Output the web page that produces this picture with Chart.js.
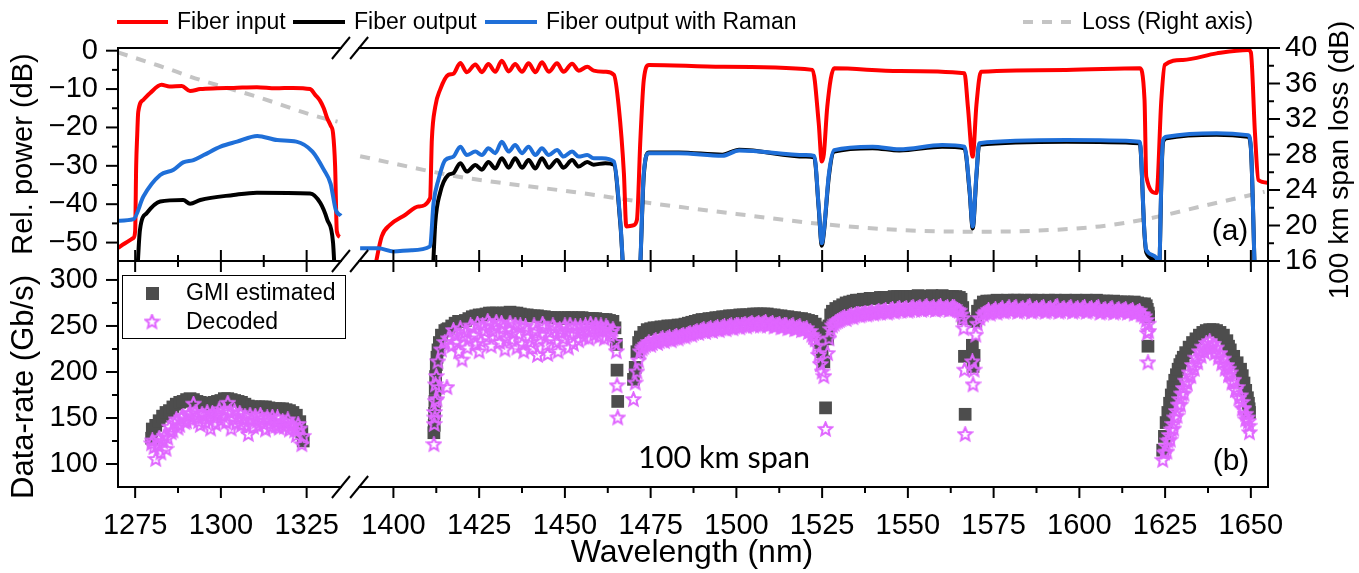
<!DOCTYPE html>
<html>
<head>
<title>Fiber spectra and data-rate</title>
<script src="https://cdn.jsdelivr.net/npm/chart.js"></script>
<style>
  body { margin: 0; background: #fff; }
  canvas { position: absolute; left: 0; top: 0; }
</style>
</head>
<body>
<canvas id="powerChart" width="1359" height="573"></canvas>
<canvas id="rateChart" width="1359" height="573"></canvas>
<script>
// ---------- panel (a): relative power spectra ----------
// ripple positions shared by the S-band traces
const rippleWl = [1419.5, 1421.4, 1423.9, 1425.8, 1427.7, 1429.7, 1431.6, 1433.6, 1435.5, 1437.5,
                  1439.4, 1441.4, 1443.3, 1445.3, 1447.7, 1449.6, 1452.1, 1454.0, 1456.5, 1458.4];

const inLeftWl = [1270, 1272, 1274.5, 1275.0, 1275.3, 1275.6, 1275.9, 1277.4, 1279.3, 1282.7,
                  1285, 1288.6, 1291, 1294, 1299, 1303.7, 1310.5, 1316, 1321, 1326,
                  1327.5, 1328.9, 1330, 1331, 1332, 1332.7, 1333.3, 1333.8, 1334.7];
const inLeftDb = [-51.4, -50.2, -48.8, -47, -30, -22, -16, -12.8, -11.1, -8.9,
                  -9.3, -9.2, -10.5, -10, -9.8, -9.7, -9.5, -9.8, -9.7, -10,
                  -11.5, -13, -15, -17.6, -19.5, -21.5, -30, -47, -48.5];
const inRightWl = [1394.5, 1396.6, 1399, 1403.4, 1407.3, 1410.7, 1411.2, 1412.2, 1413.6, 1416,
                   1417.5, ...rippleWl,
                   1461.8, 1464.3, 1465.7, 1467.2, 1467.9, 1470, 1471, 1472, 1473,
                   1474.5, 1495.9, 1522.2, 1524, 1524.9, 1525.5, 1526.5, 1528.5, 1547.5, 1566.5,
                   1567.5, 1568.9, 1570, 1571.3, 1596.2, 1617.6, 1619, 1619.5, 1622.5, 1623.9,
                   1624.9, 1630.2, 1640, 1649.2, 1650, 1651.2, 1652.2, 1655];
const inRightDb = [-57, -48.4, -45.4, -42.8, -40.6, -38.4, -23.3, -14.6, -10.2, -6.3,
                   -6.0, -3.2, -5.6, -3.6, -5.6, -3.5, -5.5, -2.6, -5.4, -3.5,
                   -5.5, -3.3, -5.6, -3.0, -5.5, -3.3, -5.5, -3.4, -5.2, -4.2,
                   -5.2, -5.5, -6.3, -14.6, -31.9, -45.8, -45.5, -44.1, -23.3, -7.6,
                   -3.7, -4.2, -5.0, -18.8, -28.9, -27, -14.6, -4.6, -5.3, -5.9,
                   -14.6, -27.6, -14, -5.5, -5.0, -4.6, -12.8, -32.8, -37.1, -12.8,
                   -3.7, -2.4, -0.7, 0.2, -0.4, -21.5, -33.7, -34.4];

const outLeftWl = [1275.5, 1276.4, 1278.4, 1282.3, 1289, 1291, 1294, 1303.7, 1310.5, 1326, 1329, 1331, 1332.7, 1333.3];
const outLeftDb = [-60, -46.7, -42.3, -39.3, -38.9, -39.9, -38.9, -37.6, -37, -37.2, -39.7, -44, -50, -60];
const outRightWl = [1411.4, 1412.2, 1413.6, 1416, 1417.5, ...rippleWl,
                    1461.8, 1464.3, 1466.2, 1467.4, 1471.6, 1473, 1474.5, 1483.2, 1495.9, 1500.8,
                    1520.2, 1522.7, 1524, 1524.9, 1525.5, 1527, 1528.5, 1539.7, 1547.5, 1560,
                    1566.5, 1568, 1568.9, 1570, 1570.8, 1596.2, 1617.6, 1619, 1619.5, 1622.5,
                    1623.2, 1624, 1624.4, 1625.4, 1640, 1649.2, 1650, 1651.2];
const outRightDb = [-60, -45, -37.1, -32.4, -31.9,
                    -29.3, -31.5, -29.8, -31.0, -29.0, -30.7, -28.0, -30.5, -28.0, -30.5,
                    -28.5, -30.7, -28.0, -30.5, -28.5, -30.5, -28.5, -30.2, -29.0, -29.7,
                    -29.3, -29.7, -45.5, -60, -60, -32.5, -26.5, -26.5, -27.1, -25.8,
                    -27.6, -27.8, -41, -50.8, -47.5, -32.5, -26.3, -25.4, -26.0, -25.0,
                    -25.4, -36.8, -46.3, -32.5, -24.5, -23.7, -24.1, -48, -52.5, -55,
                    -58, -31, -23.8, -22.8, -21.9, -22.4, -25.4, -60];

const ramLeftWl = [1270, 1274.5, 1277.4, 1282.3, 1286.2, 1289, 1292, 1295, 1299.9, 1304.7,
                   1310.6, 1316.4, 1322, 1326.7, 1330, 1332, 1333.5, 1335];
const ramLeftDb = [-44.3, -43.9, -38, -32.4, -31, -29.1, -28.5, -27.2, -25, -23.7,
                   -22.2, -23.3, -23.7, -26.3, -31, -34.7, -41.5, -43];
const ramRightWl = [1390.3, 1395.6, 1400, 1405.3, 1410.7, 1411.7, 1413.1, 1415.1, 1417.5, ...rippleWl,
                    1460.8, 1464.3, 1466.2, 1467.4, 1471.6, 1473, 1474.5, 1483.2, 1495.9, 1500.8,
                    1520.2, 1522.7, 1524, 1524.9, 1525.5, 1527, 1528.5, 1539.7, 1547.5, 1560,
                    1566.5, 1568, 1568.9, 1570, 1570.8, 1596.2, 1617.6, 1619, 1619.5, 1622.5,
                    1623.2, 1624, 1624.4, 1625.4, 1640, 1649.2, 1650, 1651.2];
const ramRightDb = [-51.5, -51.5, -52.3, -52, -51, -39.7, -33.7, -28.5, -27.6,
                    -25.0, -27.2, -26.3, -27.2, -25.4, -26.7, -23.7, -26.3, -24.6, -26.7,
                    -25.0, -27.2, -25.4, -27.2, -25.9, -27.6, -26.3, -27.6, -27.2, -28.0,
                    -28.0, -28.9, -45, -60, -60, -31.9, -26.7, -26.7, -27.4, -26,
                    -27.2, -27.4, -40.6, -50.2, -47, -31.9, -25.9, -25, -25.7, -24.6,
                    -25, -36.3, -45.8, -32, -24.1, -23.3, -23.7, -47.6, -51.9, -54,
                    -58, -30, -23.3, -22.4, -21.5, -22, -25, -60];

const lossLeftWl = [1270, 1282, 1294, 1310.6, 1327, 1334];
const lossLeftDb = [39.5, 38.0, 36.4, 34.5, 32.4, 31.7];
const lossRightWl = [1390.3, 1419, 1433.6, 1452, 1475.4, 1500, 1524.1, 1547.5, 1568.9, 1586, 1606, 1620.5, 1635, 1654];
const lossRightDb = [27.8, 25.5, 24.7, 23.8, 22.5, 21.3, 20.2, 19.5, 19.3, 19.4, 19.9, 20.8, 22.1, 23.8];

// ---------- panel (b): data-rate per channel ----------
const rateLeftWl = [1279.8, 1280, 1281, 1282, 1283, 1284, 1285, 1286, 1287, 1288, 1289, 1290, 1291, 1292, 1293, 1294,
                    1295, 1296, 1297, 1298, 1299, 1300, 1301, 1302, 1303, 1304, 1305, 1306, 1307, 1308, 1309, 1310,
                    1311, 1312, 1313, 1314, 1315, 1316, 1317, 1318, 1319, 1320, 1321, 1322, 1323, 1323.6, 1324];
const gmiLeft = [128, 138, 142, 147, 152, 156, 158, 162, 165, 167, 168, 170, 171, 170, 168, 167,
                 166, 165, 166, 167, 168, 169, 171, 171, 170, 169, 168, 167, 165, 163, 162, 162,
                 162, 162, 162, 161, 160, 160, 160, 160, 159, 158, 156, 153, 146, 135, 125];
const decLeft = [122, 125, 105, 128, 124, 116, 140, 136, 148, 142, 152, 146, 155, 165, 150, 142,
                 152, 156, 138, 150, 154, 147, 158, 166, 138, 157, 150, 142, 152, 132, 148, 152,
                 141, 149, 137, 147, 151, 141, 139, 146, 144, 137, 142, 131, 138, 121, 130];

const rateSWl = [1411.8, 1411.9, 1412.0, 1412.1, 1412.2, 1412.3, 1412.5, 1412.7, 1413.0, 1413.4, 1414, 1415, 1415.6, 1416,
                 1417, 1418, 1419, 1420, 1421, 1422, 1423, 1424, 1425, 1426, 1427, 1428, 1429, 1430, 1431, 1432,
                 1433, 1434, 1435, 1436, 1437, 1438, 1439, 1440, 1441, 1442, 1443, 1444, 1445, 1446, 1447, 1448,
                 1449, 1450, 1451, 1452, 1453, 1454, 1455, 1456, 1457, 1458, 1459, 1460, 1461, 1462, 1463, 1464,
                 1464.6, 1465.0, 1465.2, 1465.4];
const gmiS = [134, 142, 155, 168, 182, 195, 208, 216, 224, 232, 240, 245, 246, 247,
              250, 253, 255, 255, 256, 258, 260, 261, 262, 262, 263, 264, 264, 264, 263, 264,
              264, 265, 264, 264, 263, 262, 262, 261, 261, 261, 260, 260, 259, 259, 259, 259,
              258, 259, 259, 259, 258, 259, 259, 258, 258, 258, 258, 257, 257, 257, 256, 255,
              248, 230, 202, 168];
const decS = [121, 143, 156, 150, 168, 186, 195, 170, 211, 183, 224, 232, 183, 236,
              228, 240, 222, 213, 243, 236, 248, 230, 222, 250, 238, 252, 244, 254, 232, 248,
              236, 253, 242, 226, 250, 222, 245, 232, 250, 218, 240, 248, 219, 236, 247, 222,
              242, 250, 226, 240, 249, 234, 244, 250, 236, 246, 251, 238, 245, 249, 240, 246,
              232, 222, 185, 150];

const rateCWl = [1470.0, 1470.5, 1471.0, 1471.5,
                 1472, 1473, 1474, 1475, 1476, 1477, 1478, 1479, 1480, 1481,
                 1482, 1483, 1484, 1485, 1486, 1487, 1488, 1489, 1490, 1491,
                 1492, 1493, 1494, 1495, 1496, 1497, 1498, 1499, 1500, 1501,
                 1502, 1503, 1504, 1505, 1506, 1507, 1508, 1509, 1510, 1511,
                 1512, 1513, 1514, 1515, 1516, 1517, 1518, 1519, 1520, 1521,
                 1522, 1523, 1523.5, 1524, 1524.5, 1525, 1525.5, 1526];
const gmiC = [192, 205, 222, 232,
              238, 243, 246, 247, 248, 248, 249, 249, 250, 250,
              250, 251, 251, 252, 253, 254, 255, 256, 257, 257,
              258, 258, 259, 259, 260, 260, 261, 261, 261, 262,
              262, 262, 262, 263, 263, 263, 263, 263, 262, 262,
              261, 261, 260, 260, 259, 259, 258, 258, 257, 256,
              255, 252, 248, 242, 232, 222, 211, 161];
const decC = [170, 188, 200, 212,
              222, 227, 230, 229, 233, 231, 235, 233, 236, 234,
              237, 236, 239, 238, 241, 240, 243, 242, 245, 243,
              246, 244, 247, 245, 248, 246, 249, 247, 250, 248,
              251, 249, 252, 250, 252, 250, 253, 250, 252, 249,
              251, 248, 250, 247, 249, 246, 248, 245, 246, 243,
              240, 235, 228, 218, 208, 200, 195, 137.6];

const rateC2Wl = [1526.6, 1527, 1527.5,
                  1528, 1529, 1530, 1531, 1532, 1533, 1534, 1535, 1536, 1537,
                  1538, 1539, 1540, 1541, 1542, 1543, 1544, 1545, 1546, 1547,
                  1548, 1549, 1550, 1551, 1552, 1553, 1554, 1555, 1556, 1557,
                  1558, 1559, 1560, 1561, 1562, 1563, 1564, 1565,
                  1565.5, 1566, 1566.3, 1566.5, 1566.7];
const gmiC2 = [236, 250, 262,
               266, 269, 271, 273, 275, 276, 277, 278, 278, 279,
               279, 280, 280, 280, 281, 281, 281, 281, 282, 282,
               282, 282, 282, 282, 282, 283, 282, 282, 282, 283,
               282, 282, 283, 282, 282, 282, 282, 281,
               279, 270, 258, 217, 154];
const decC2 = [220, 236, 246,
               250, 254, 256, 258, 257, 260, 259, 262, 261, 263,
               262, 264, 263, 265, 264, 266, 264, 267, 265, 268,
               266, 268, 266, 269, 267, 269, 267, 270, 268, 269,
               267, 270, 268, 269, 267, 270, 268, 266,
               262, 258, 247, 202, 132];

const rateLWl = [1568.8, 1569.0, 1569.3, 1569.8, 1570.3, 1571,
                 1572, 1573, 1574, 1575, 1576, 1577, 1578, 1579, 1580, 1581,
                 1582, 1583, 1584, 1585, 1586, 1587, 1588, 1589, 1590, 1591,
                 1592, 1593, 1594, 1595, 1596, 1597, 1598, 1599, 1600, 1601,
                 1602, 1603, 1604, 1605, 1606, 1607, 1608, 1609, 1610, 1611,
                 1612, 1613, 1614, 1615, 1616, 1617, 1618, 1619,
                 1619.5, 1619.8, 1620.0, 1620.1, 1620.2];
const gmiL = [229, 206, 218, 255, 266, 272,
              276, 277, 277, 277, 278, 277, 277, 278, 277, 278,
              278, 277, 278, 277, 278, 277, 278, 277, 277, 278,
              277, 278, 277, 277, 278, 277, 277, 278, 277, 277,
              278, 277, 277, 278, 277, 277, 277, 276, 277, 276,
              276, 276, 276, 275, 276, 275, 274, 274,
              272, 268, 228, 264, 260];
const decL = [211, 186, 202, 240, 252, 258,
              262, 265, 263, 266, 264, 267, 265, 268, 266, 269,
              265, 268, 266, 270, 265, 268, 266, 269, 265, 268,
              266, 270, 265, 268, 266, 269, 265, 268, 266, 269,
              265, 268, 266, 269, 264, 267, 265, 268, 264, 267,
              265, 267, 264, 266, 263, 265, 262, 260,
              256, 242, 210, 252, 244];

const rateUWl = [1624.3, 1624.8, 1625.3, 1625.8, 1626.3, 1626.8, 1627.3, 1627.8, 1628.3, 1628.8,
                 1629.3, 1629.8, 1630.3, 1631, 1632, 1633, 1634, 1635, 1636, 1637,
                 1638, 1639, 1640, 1641, 1642, 1643, 1643.5, 1644, 1645, 1646,
                 1647, 1647.5, 1648, 1648.5, 1649, 1649.3, 1649.5, 1649.6];
const gmiU = [115, 130, 145, 156, 166, 175, 184, 191, 197, 203,
              208, 212, 216, 221, 227, 232, 236, 240, 243, 245,
              246, 246, 245, 243, 240, 234, 228, 224, 217, 210,
              203, 196, 188, 180, 172, 166, 160, 156];
const decU = [104, 112, 119, 125, 131, 137, 143, 150, 157, 164,
              170, 176, 182, 190, 199, 207, 215, 222, 227, 231,
              233, 230, 226, 220, 214, 207, 203, 199, 191, 183,
              174, 167, 160, 154, 150, 146, 141, 134];

// decoded rate of the interleaved channels (half-nm offset)
const decLeftHalf = [118, 120, 112, 130, 128, 134, 144, 139, 150, 145, 153, 148, 156, 146, 154, 145,
                     150, 155, 143, 159, 152, 145, 156, 150, 144, 155, 147, 141, 153, 140, 146, 153,
                     143, 150, 140, 146, 150, 143, 140, 148, 141, 136, 143];            // 1280.5 .. 1322.5
const decSHalf = [245, 232, 247, 238, 226, 250, 240, 252, 233, 244, 255, 228, 249, 240, 253, 224,
                  246, 235, 251, 241, 230, 249, 238, 226, 244, 235, 252, 229, 243, 250, 232, 246,
                  236, 244, 251, 230, 243, 249, 238, 245, 252, 240, 246, 250, 236, 247, 243];  // 1417.5 .. 1463.5
const decCHalf = [225, 229, 232, 231, 234, 233, 236, 235, 237, 236, 239, 238, 240, 240, 242, 242,
                  244, 244, 246, 245, 247, 246, 248, 247, 249, 248, 250, 249, 251, 250, 252, 251,
                  253, 251, 253, 252, 254, 251, 253, 250, 252, 249, 251, 248, 250, 247, 249, 246,
                  247, 244, 238];                                                   // 1472.5 .. 1522.5
const decC2Half = [252, 255, 257, 259, 259, 261, 261, 263, 262, 264, 263, 265, 264, 266, 265, 267,
                   265, 268, 266, 269, 267, 269, 267, 270, 268, 270, 268, 271, 268, 270, 268, 271,
                   268, 270, 268, 270, 267];                                        // 1528.5 .. 1564.5
const decLHalf = [264, 267, 265, 268, 266, 269, 266, 270, 267, 270, 266, 269, 267, 271, 266, 269,
                  267, 270, 266, 269, 267, 271, 266, 269, 267, 270, 266, 269, 267, 270, 266, 269,
                  267, 270, 265, 268, 266, 269, 265, 268, 266, 268, 265, 267, 264, 266, 262];  // 1572.5 .. 1618.5
const decUHalf = [113, 126, 138, 152, 164, 176, 187, 195, 203, 210, 217, 221,
                  225, 226, 220, 215, 209, 203, 196, 188, 180, 171, 160, 148];      // 1625.5 .. 1648.5

// ---------- axis ticks ----------
const xMajorTicks = [1275, 1300, 1325, 1400, 1425, 1450, 1475, 1500, 1525, 1550, 1575, 1600, 1625, 1650];
const xMinorTicks = [1287.5, 1312.5, 1412.5, 1437.5, 1462.5, 1487.5, 1512.5, 1537.5, 1562.5, 1587.5, 1612.5, 1637.5];
const powerTicks = [0, -10, -20, -30, -40, -50];
const powerMinor = [-5, -15, -25, -35, -45];
const lossTicks = [16, 20, 24, 28, 32, 36, 40];
const lossMinor = [18, 22, 26, 30, 34, 38];
const rateTicks = [100, 150, 200, 250, 300];
const rateMinor = [125, 175, 225, 275];

// axis break: 1335 nm .. 1390 nm is cut out, leaving a small gap
const BREAK_LO = 1335, BREAK_HI = 1390, GAP_NM = 49.7;

const BaseLinear = Chart.LinearScale || Chart.registry.getScale('linear');
class BrokenAxisScale extends BaseLinear {
  static id = 'brokenAxis';
  static defaults = BaseLinear.defaults;
  getPixelForValue(value) {
    const c = value > 1360 ? value - GAP_NM : value;
    return this.getPixelForDecimal((c - this.min) / (this.max - GAP_NM - this.min));
  }
}
Chart.register(BrokenAxisScale);

Chart.defaults.font.family = "'Liberation Sans', Arial, sans-serif";
Chart.defaults.color = '#000';

const FONT = "'Liberation Sans', Arial, sans-serif";
const RED = '#ff0000', BLUE = '#1f6fd8', GREY = '#c4c4c4', DARK = '#4d4d4d', PINK = '#e066ff';

function pts(xs, ys) { return xs.map((x, i) => ({ x: x, y: ys[i] })); }
function broken(lx, ly, rx, ry) { return pts(lx, ly).concat([{ x: 1360, y: null }], pts(rx, ry)); }
function halfGrid(from, values) { return values.map((v, i) => ({ x: from + i, y: v })); }

function makeStar(size, color) {
  const c = document.createElement('canvas');
  c.width = size; c.height = size;
  const g = c.getContext('2d');
  const R = size / 2 - 1.5, r = R * 0.45, m = size / 2;
  g.beginPath();
  for (let i = 0; i < 10; i++) {
    const a = -Math.PI / 2 + i * Math.PI / 5, rad = i % 2 ? r : R;
    g.lineTo(m + rad * Math.cos(a), m + rad * Math.sin(a));
  }
  g.closePath();
  g.strokeStyle = color; g.lineWidth = 2;
  g.stroke();
  return c;
}
const starImg = makeStar(17, PINK);

function seg(ctx, x1, y1, x2, y2) { ctx.beginPath(); ctx.moveTo(x1, y1); ctx.lineTo(x2, y2); ctx.stroke(); }
function slash(ctx, cx, cy) { seg(ctx, cx - 9, cy + 11, cx + 9, cy - 11); }
function vtext(ctx, text, x, y, size) {
  ctx.save();
  ctx.translate(x, y); ctx.rotate(-Math.PI / 2);
  ctx.font = size + 'px ' + FONT; ctx.textAlign = 'center'; ctx.textBaseline = 'middle';
  ctx.fillText(text, 0, 0);
  ctx.restore();
}
function tickList(values) { return s => { s.ticks = values.map(v => ({ value: v })); }; }
const minus = v => v < 0 ? '\u2212' + Math.abs(v) : String(v);

// ---------- panel (a) ----------
const framePower = {
  id: 'framePower',
  afterDraw(chart) {
    const ctx = chart.ctx, a = chart.chartArea, sx = chart.scales.x;
    const bl = sx.getPixelForValue(BREAK_LO), br = sx.getPixelForValue(BREAK_HI);
    ctx.save();
    ctx.strokeStyle = '#000'; ctx.fillStyle = '#000'; ctx.lineWidth = 2; ctx.lineCap = 'square';
    seg(ctx, a.left, a.top, bl, a.top); seg(ctx, br, a.top, a.right, a.top);
    seg(ctx, a.left, a.bottom, bl, a.bottom); seg(ctx, br, a.bottom, a.right, a.bottom);
    seg(ctx, a.left, a.top, a.left, a.bottom); seg(ctx, a.right, a.top, a.right, a.bottom);
    ctx.lineCap = 'butt';
    powerTicks.forEach(v => { const y = chart.scales.y.getPixelForValue(v); seg(ctx, a.left - 12, y, a.left, y); });
    powerMinor.forEach(v => { const y = chart.scales.y.getPixelForValue(v); seg(ctx, a.left - 6, y, a.left, y); });
    lossTicks.forEach(v => { const y = chart.scales.yLoss.getPixelForValue(v); seg(ctx, a.right, y, a.right + 12, y); });
    lossMinor.forEach(v => { const y = chart.scales.yLoss.getPixelForValue(v); seg(ctx, a.right, y, a.right + 6, y); });
    xMajorTicks.forEach(v => { const x = sx.getPixelForValue(v); seg(ctx, x, a.bottom, x, a.bottom - 11); });
    xMinorTicks.forEach(v => { const x = sx.getPixelForValue(v); seg(ctx, x, a.bottom, x, a.bottom - 6); });
    slash(ctx, bl, a.top); slash(ctx, br, a.top);

    // legend row
    ctx.font = '23px ' + FONT; ctx.textBaseline = 'middle'; ctx.textAlign = 'left';
    ctx.lineWidth = 4;
    const items = [[117, 168, RED, 'Fiber input'], [293, 345, '#000', 'Fiber output'],
                   [485, 537, BLUE, 'Fiber output with Raman'], [1023, 1073, GREY, 'Loss (Right axis)']];
    items.forEach(([x0, x1, col, label], i) => {
      ctx.strokeStyle = col;
      ctx.setLineDash(i === 3 ? [10, 9] : []);
      seg(ctx, x0, 22, x1, 22);
      ctx.fillText(label, x1 + 9, 23);
    });
    ctx.setLineDash([]);

    ctx.font = '30px ' + FONT; ctx.textAlign = 'center';
    ctx.fillText('(a)', 1230, 232);
    vtext(ctx, 'Rel. power (dB)', 24, 154, 29);
    vtext(ctx, '100 km span loss (dB)', 1340, 160, 28);
    ctx.restore();
  }
};

const lineStyle = { pointRadius: 0, borderWidth: 4, cubicInterpolationMode: 'monotone', clip: 0, spanGaps: false };

new Chart(document.getElementById('powerChart'), {
  type: 'line',
  data: {
    datasets: [
      Object.assign({ label: 'Fiber output with Raman', data: broken(ramLeftWl, ramLeftDb, ramRightWl, ramRightDb),
                      borderColor: BLUE, order: 1, yAxisID: 'y' }, lineStyle),
      Object.assign({ label: 'Fiber output', data: broken(outLeftWl, outLeftDb, outRightWl, outRightDb),
                      borderColor: '#000', order: 2, yAxisID: 'y' }, lineStyle),
      Object.assign({ label: 'Fiber input', data: broken(inLeftWl, inLeftDb, inRightWl, inRightDb),
                      borderColor: RED, order: 3, yAxisID: 'y' }, lineStyle),
      Object.assign({ label: 'Loss (Right axis)', data: broken(lossLeftWl, lossLeftDb, lossRightWl, lossRightDb),
                      borderColor: GREY, borderDash: [10, 9], order: 4, yAxisID: 'yLoss' }, lineStyle)
    ]
  },
  options: {
    responsive: false, animation: false, devicePixelRatio: 1, events: [],
    layout: { padding: { top: 48, bottom: 312, left: 0, right: 0 } },
    plugins: { legend: { display: false }, tooltip: { enabled: false } },
    scales: {
      x: { type: 'brokenAxis', min: 1270, max: 1655, bounds: 'data', display: false },
      y: {
        position: 'left', min: -54.8, max: 0.7, bounds: 'data',
        grid: { display: false, drawTicks: false }, border: { display: false },
        afterBuildTicks: tickList(powerTicks),
        ticks: { font: { size: 29 }, padding: 20, autoSkip: false, callback: minus },
        afterFit: s => { s.width = 118; }
      },
      yLoss: {
        position: 'right', min: 16, max: 40, bounds: 'data',
        grid: { display: false, drawTicks: false }, border: { display: false },
        afterBuildTicks: tickList(lossTicks),
        ticks: { font: { size: 29 }, padding: 17, autoSkip: false },
        afterFit: s => { s.width = 91; }
      }
    }
  },
  plugins: [framePower]
});

// ---------- panel (b) ----------
const frameRate = {
  id: 'frameRate',
  afterDraw(chart) {
    const ctx = chart.ctx, a = chart.chartArea, sx = chart.scales.x;
    const bl = sx.getPixelForValue(BREAK_LO), br = sx.getPixelForValue(BREAK_HI);
    ctx.save();
    ctx.strokeStyle = '#000'; ctx.fillStyle = '#000'; ctx.lineWidth = 2; ctx.lineCap = 'square';
    seg(ctx, a.left, a.bottom, bl, a.bottom); seg(ctx, br, a.bottom, a.right, a.bottom);
    seg(ctx, a.left, a.top, a.left, a.bottom); seg(ctx, a.right, a.top, a.right, a.bottom);
    ctx.lineCap = 'butt';
    rateTicks.forEach(v => { const y = chart.scales.y.getPixelForValue(v); seg(ctx, a.left - 12, y, a.left, y); });
    rateMinor.forEach(v => { const y = chart.scales.y.getPixelForValue(v); seg(ctx, a.left - 6, y, a.left, y); });
    [a.top, a.bottom].forEach(yy => {
      xMajorTicks.forEach(v => { const x = sx.getPixelForValue(v); seg(ctx, x, yy, x, yy + 11); });
      xMinorTicks.forEach(v => { const x = sx.getPixelForValue(v); seg(ctx, x, yy, x, yy + 6); });
      slash(ctx, bl, yy); slash(ctx, br, yy);
    });

    // legend box
    ctx.lineWidth = 1;
    ctx.strokeRect(122.5, 275.5, 223, 63);
    ctx.fillStyle = DARK;
    ctx.fillRect(146, 287, 13, 13);
    ctx.drawImage(starImg, 152 - 8.5, 322 - 8.5);
    ctx.fillStyle = '#000';
    ctx.font = '23px ' + FONT; ctx.textAlign = 'left'; ctx.textBaseline = 'middle';
    ctx.fillText('GMI estimated', 186, 294);
    ctx.fillText('Decoded', 186, 323);

    ctx.font = "31px Lato, 'Open Sans', sans-serif";
    ctx.fillText('100 km span', 638, 458, 172);
    ctx.font = '30px ' + FONT; ctx.textAlign = 'center';
    ctx.fillText('(b)', 1231, 462);
    ctx.font = '32px ' + FONT;
    ctx.fillText('Wavelength (nm)', 692, 553);
    vtext(ctx, 'Data-rate (Gb/s)', 24, 387, 31);
    ctx.restore();
  }
};

const gmiData = [].concat(pts(rateLeftWl, gmiLeft), pts(rateSWl, gmiS), pts(rateCWl, gmiC),
                          pts(rateC2Wl, gmiC2), pts(rateLWl, gmiL), pts(rateUWl, gmiU));
const decData = [].concat(pts(rateLeftWl, decLeft), pts(rateSWl, decS), pts(rateCWl, decC),
                          pts(rateC2Wl, decC2), pts(rateLWl, decL), pts(rateUWl, decU),
                          halfGrid(1280.5, decLeftHalf), halfGrid(1417.5, decSHalf), halfGrid(1472.5, decCHalf),
                          halfGrid(1528.5, decC2Half), halfGrid(1572.5, decLHalf), halfGrid(1625.5, decUHalf));

new Chart(document.getElementById('rateChart'), {
  type: 'scatter',
  data: {
    datasets: [
      { label: 'Decoded', data: decData, pointStyle: starImg, pointRadius: 8, order: 1 },
      { label: 'GMI estimated', data: gmiData, pointStyle: 'rect', pointRadius: 9,
        backgroundColor: DARK, borderWidth: 0, order: 2 }
    ]
  },
  options: {
    responsive: false, animation: false, devicePixelRatio: 1, events: [],
    layout: { padding: { top: 261, bottom: 0, left: 0, right: 91 } },
    plugins: { legend: { display: false }, tooltip: { enabled: false } },
    scales: {
      x: {
        type: 'brokenAxis', position: 'bottom', min: 1270, max: 1655, bounds: 'data',
        grid: { display: false, drawTicks: false }, border: { display: false },
        afterBuildTicks: tickList(xMajorTicks),
        ticks: { font: { size: 29 }, padding: 22, autoSkip: false, maxRotation: 0, callback: v => String(v) },
        afterFit: s => { s.height = 86; }
      },
      y: {
        position: 'left', min: 75, max: 320.6, bounds: 'data',
        grid: { display: false, drawTicks: false }, border: { display: false },
        afterBuildTicks: tickList(rateTicks),
        ticks: { font: { size: 29 }, padding: 20, autoSkip: false },
        afterFit: s => { s.width = 118; }
      }
    }
  },
  plugins: [frameRate]
});
</script>
</body>
</html>
